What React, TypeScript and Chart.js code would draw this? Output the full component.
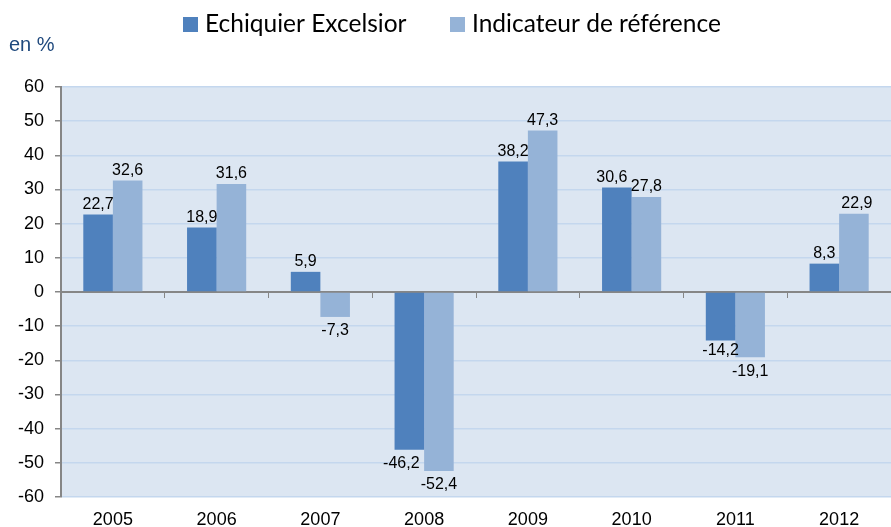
import React, { useEffect, useRef } from 'react';
import { Chart, registerables } from 'chart.js';

Chart.register(...registerables);

const years = ['2005', '2006', '2007', '2008', '2009', '2010', '2011', '2012'];
const excelsior = [22.7, 18.9, 5.9, -46.2, 38.2, 30.6, -14.2, 8.3];
const indicateur = [32.6, 31.6, -7.3, -52.4, 47.3, 27.8, -19.1, 22.9];
const seriesNames = ['Echiquier Excelsior', 'Indicateur de référence'];
const seriesColors = ['#4F81BD', '#95B3D7'];
const yMin = -60;
const yMax = 60;
const yStep = 10;
const unitLabel = 'en %';

const AXIS_GREY = '#868686';
const PLOT_BG = '#DCE6F2';
const GRID_BLUE = '#C4D7EE';
const ARIAL = '"Liberation Sans", Arial, sans-serif';
const LEGEND_FONT = '24.5px Lato, "Open Sans", sans-serif';

const fmt = (v: number) => v.toFixed(1).replace('.', ',');

const plotBackground = {
  id: 'plotBackground',
  beforeDraw(chart: any) {
    const { ctx, chartArea } = chart;
    ctx.save();
    ctx.fillStyle = PLOT_BG;
    ctx.fillRect(chartArea.left, chartArea.top, chartArea.right - chartArea.left, chartArea.bottom - chartArea.top);
    ctx.restore();
  },
};

// Legend drawn from the chart's own dataset labels and colours
const legendBoxes = {
  id: 'legendBoxes',
  afterDraw(chart: any) {
    const { ctx } = chart;
    const boxX = [183, 450];
    ctx.save();
    ctx.font = LEGEND_FONT;
    ctx.textAlign = 'left';
    ctx.textBaseline = 'alphabetic';
    chart.data.datasets.forEach((ds: any, i: number) => {
      ctx.fillStyle = ds.backgroundColor;
      ctx.fillRect(boxX[i], 17, 15, 15);
      ctx.fillStyle = '#000000';
      ctx.fillText(ds.label, boxX[i] + 22, 32);
    });
    ctx.restore();
  },
};

const dataLabels = {
  id: 'dataLabels',
  afterDatasetsDraw(chart: any) {
    const { ctx } = chart;
    ctx.save();
    ctx.font = `16px ${ARIAL}`;
    ctx.fillStyle = '#000000';
    ctx.textAlign = 'center';
    ctx.textBaseline = 'middle';
    chart.data.datasets.forEach((ds: any, di: number) => {
      const meta = chart.getDatasetMeta(di);
      meta.data.forEach((bar: any, i: number) => {
        const v = ds.data[i];
        let x = bar.x;
        let dy = v >= 0 ? -10 : 14;
        // small shifts Excel applied to avoid overlapping labels
        if (di === 0 && i === 5) x -= 5;
        if (di === 0 && i === 3) x -= 8;
        if (di === 0 && i === 6) dy = 10;
        if (di === 1 && i === 7) x += 3;
        ctx.fillText(fmt(v), x, bar.y + dy);
      });
    });
    ctx.restore();
  },
};

const unitText = {
  id: 'unitText',
  afterDraw(chart: any) {
    const { ctx } = chart;
    ctx.save();
    ctx.font = `20px ${ARIAL}`;
    ctx.fillStyle = '#1F497D';
    ctx.textAlign = 'left';
    ctx.textBaseline = 'middle';
    ctx.fillText(unitLabel, 9, 45);
    ctx.restore();
  },
};

export default function App() {
  const ref = useRef<HTMLCanvasElement | null>(null);

  useEffect(() => {
    document.body.style.margin = '0';
    const canvas = ref.current;
    if (!canvas) return;
    const chart = new Chart(canvas, {
      type: 'bar',
      data: {
        labels: years,
        datasets: [
          {
            label: seriesNames[0],
            data: excelsior,
            backgroundColor: seriesColors[0],
            xAxisID: 'x',
            yAxisID: 'y',
          },
          {
            label: seriesNames[1],
            data: indicateur,
            backgroundColor: seriesColors[1],
            xAxisID: 'x',
            yAxisID: 'y',
          },
        ],
      },
      options: {
        animation: false,
        responsive: false,
        maintainAspectRatio: false,
        layout: { padding: { top: 87, left: 0, right: 0, bottom: 0 } },
        datasets: {
          bar: { categoryPercentage: 0.57, barPercentage: 1 },
        },
        plugins: {
          tooltip: { enabled: false },
          legend: { display: false },
        },
        scales: {
          x: {
            type: 'category',
            position: { y: 0 } as any,
            offset: true,
            grid: {
              display: true,
              drawOnChartArea: false,
              drawTicks: true,
              tickLength: 5,
              tickColor: AXIS_GREY,
              offset: true,
              lineWidth: 1,
            },
            border: { display: true, color: AXIS_GREY, width: 2 },
            ticks: { display: false },
          },
          x2: {
            type: 'category',
            position: 'bottom',
            offset: true,
            grid: { display: false, drawTicks: false },
            border: { display: false },
            ticks: {
              padding: 12,
              color: '#000000',
              font: { family: ARIAL, size: 18 },
              maxRotation: 0,
              autoSkip: false,
            },
            afterFit(scale: any) {
              scale.height = 30;
            },
          },
          y: {
            type: 'linear',
            position: 'left',
            min: yMin,
            max: yMax,
            grid: {
              color: GRID_BLUE,
              lineWidth: 1.5,
              drawTicks: true,
              tickLength: 6,
              tickColor: AXIS_GREY,
            },
            border: { display: true, color: AXIS_GREY, width: 2 },
            ticks: {
              stepSize: yStep,
              padding: 11,
              color: '#000000',
              font: { family: ARIAL, size: 18 },
              callback: (v: any) => String(v),
            },
            afterFit(scale: any) {
              scale.width = 61;
            },
          },
        },
      },
      plugins: [plotBackground, legendBoxes, dataLabels, unitText],
    });
    return () => chart.destroy();
  }, []);

  return (
    <div style={{ width: 891, height: 527 }}>
      <canvas ref={ref} width={891} height={527} style={{ display: 'block', width: 891, height: 527 }} />
    </div>
  );
}
